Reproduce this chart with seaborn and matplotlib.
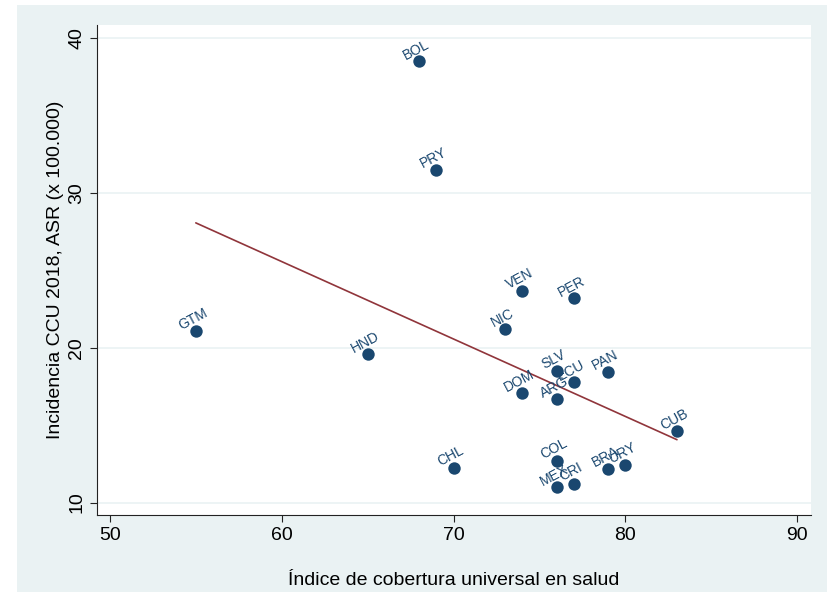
import numpy as np
import matplotlib
matplotlib.use("Agg")
import matplotlib.pyplot as plt
from matplotlib.patches import Rectangle
import pandas as pd
import seaborn as sns

# datos
paises = ['BOL', 'PRY', 'GTM', 'HND', 'NIC', 'VEN', 'PER', 'SLV', 'ECU', 'PAN',
          'DOM', 'ARG', 'CUB', 'COL', 'BRA', 'URY', 'MEX', 'CRI', 'CHL']
cobertura = [68, 69, 55, 65, 73, 74, 77, 76, 77, 79,
             74, 76, 83, 76, 79, 80, 76, 77, 70]
incidencia = [38.5, 31.5, 21.1, 19.6, 21.2, 23.7, 23.2, 18.5, 17.8, 18.45,
              17.1, 16.7, 14.6, 12.7, 12.2, 12.45, 11.0, 11.2, 12.25]
xticks = [50, 60, 70, 80, 90]
yticks = [10, 20, 30, 40]

navy = '#1a476f'
maroon = '#90353b'
bg = '#eaf2f3'

df = pd.DataFrame({'pais': paises, 'x': cobertura, 'y': incidencia})

sns.set_style('ticks')
plt.rcParams['font.family'] = ['Liberation Sans', 'DejaVu Sans']
plt.rcParams['text.color'] = 'black'
plt.rcParams['axes.labelcolor'] = 'black'
plt.rcParams['xtick.labelcolor'] = 'black'
plt.rcParams['ytick.labelcolor'] = 'black'

fig = plt.figure(figsize=(8.27, 5.92), dpi=100)
fig.patch.set_facecolor('white')
fig.patches.append(Rectangle((17 / 827, 0), 1 - 17 / 827, 1 - 5 / 592,
                             transform=fig.transFigure, facecolor=bg,
                             edgecolor='none', zorder=-10))
ax = fig.add_axes([97 / 827, 1 - 515 / 592, (811 - 97) / 827, (515 - 25) / 592])
ax.set_facecolor('white')

sns.scatterplot(data=df, x='x', y='y', ax=ax, color=navy, s=80,
                edgecolor=navy, linewidth=0, zorder=3)
sns.regplot(data=df, x='x', y='y', ax=ax, scatter=False, ci=None,
            line_kws={'color': maroon, 'lw': 1.2}, truncate=True)

for _, r in df.iterrows():
    ax.annotate(r['pais'], (r['x'], r['y']), xytext=(0.5, 4),
                textcoords='offset points', ha='center', va='bottom',
                rotation=28, rotation_mode='anchor', fontsize=10, color=navy)

ax.set_xlim(49.25, 90.8)
ax.set_ylim(9.2, 40.85)
ax.set_xticks(xticks)
ax.set_yticks(yticks)
ax.tick_params(axis='both', labelsize=14, length=5, width=0.8, color='#222222')
plt.setp(ax.get_yticklabels(), rotation=90, va='center')
ax.yaxis.grid(True, color=bg, lw=1.2)
ax.set_axisbelow(True)

for s in ['top', 'right']:
    ax.spines[s].set_visible(False)
for s in ['left', 'bottom']:
    ax.spines[s].set_color('#222222')
    ax.spines[s].set_linewidth(0.8)

ax.set_xlabel('Índice de cobertura universal en salud', fontsize=14, labelpad=20)
ax.set_ylabel('Incidencia CCU 2018, ASR (x 100.000)', fontsize=14, labelpad=3)

fig.savefig('out.png', dpi=100, facecolor=fig.get_facecolor())
